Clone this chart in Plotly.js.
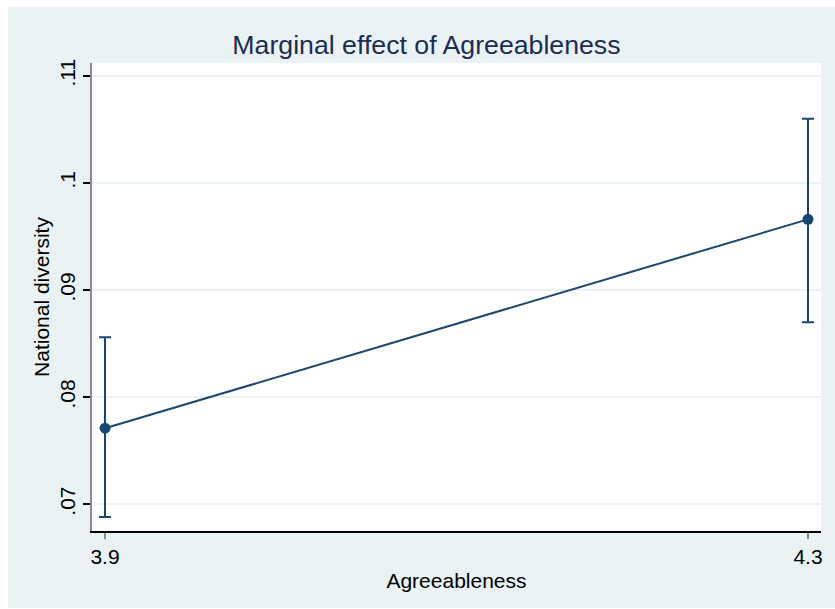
<!DOCTYPE html>
<html>
<head>
<meta charset="utf-8">
<script src="https://cdn.plot.ly/plotly-3.0.1.min.js"></script>
<style>
  html, body { margin: 0; padding: 0; background: #ffffff; }
  #chart { position: absolute; left: 8px; top: 7px; width: 827px; height: 601px; }
</style>
</head>
<body>
<div id="chart"></div>
<script>
// Predicted national diversity at two levels of agreeableness, with 95% CIs
const agreeableness = [3.9, 4.3];
const diversity = [0.0771, 0.0966];
const ciLower = [0.0688, 0.0870];
const ciUpper = [0.0856, 0.1060];
const yTicks = [0.07, 0.08, 0.09, 0.10, 0.11];
const yTickText = ['.07', '.08', '.09', '.1', '.11'];
const xTicks = [3.9, 4.3];
const xTickText = ['3.9', '4.3'];

const navy = '#1a476f';
const font = 'Liberation Sans, Arial, sans-serif';

const trace = {
  x: agreeableness,
  y: diversity,
  mode: 'lines+markers',
  line: { color: navy, width: 2 },
  marker: { color: navy, size: 11 },
  error_y: {
    type: 'data',
    symmetric: false,
    array: diversity.map((v, i) => ciUpper[i] - v),
    arrayminus: diversity.map((v, i) => v - ciLower[i]),
    color: navy,
    thickness: 2,
    width: 6
  },
  hoverinfo: 'x+y',
  showlegend: false
};

const layout = {
  width: 827,
  height: 601,
  paper_bgcolor: '#eaf2f3',
  plot_bgcolor: '#ffffff',
  margin: { l: 84, r: 14, t: 56, b: 77 },
  font: { family: font, color: '#000000' },
  title: {
    text: 'Marginal effect of Agreeableness',
    font: { family: font, size: 26.7, color: '#1c2d55' },
    xref: 'container', x: 0.506, xanchor: 'center',
    yref: 'container', y: 0.937, yanchor: 'middle'
  },
  xaxis: {
    range: [3.8926, 4.3074],
    tickvals: xTicks,
    ticktext: xTickText,
    ticks: 'outside',
    ticklen: 6,
    tickwidth: 2,
    tickcolor: '#8a8a8a',
    showline: true,
    linecolor: '#000000',
    linewidth: 2,
    showgrid: false,
    zeroline: false,
    tickfont: { size: 21 },
    title: { text: 'Agreeableness', font: { size: 21 }, standoff: 6 }
  },
  yaxis: {
    range: [0.0675, 0.1112],
    tickvals: yTicks,
    ticktext: yTickText,
    tickangle: -90,
    ticks: 'outside',
    ticklen: 7,
    tickwidth: 1.5,
    tickcolor: '#000000',
    showline: true,
    linecolor: '#8a8a8a',
    linewidth: 2,
    showgrid: true,
    gridcolor: '#eaf2f3',
    gridwidth: 2,
    zeroline: false,
    tickfont: { size: 21 },
    title: { text: 'National diversity', font: { size: 21 }, standoff: 0 }
  }
};

Plotly.newPlot('chart', [trace], layout, { displayModeBar: false, responsive: false });
</script>
</body>
</html>
